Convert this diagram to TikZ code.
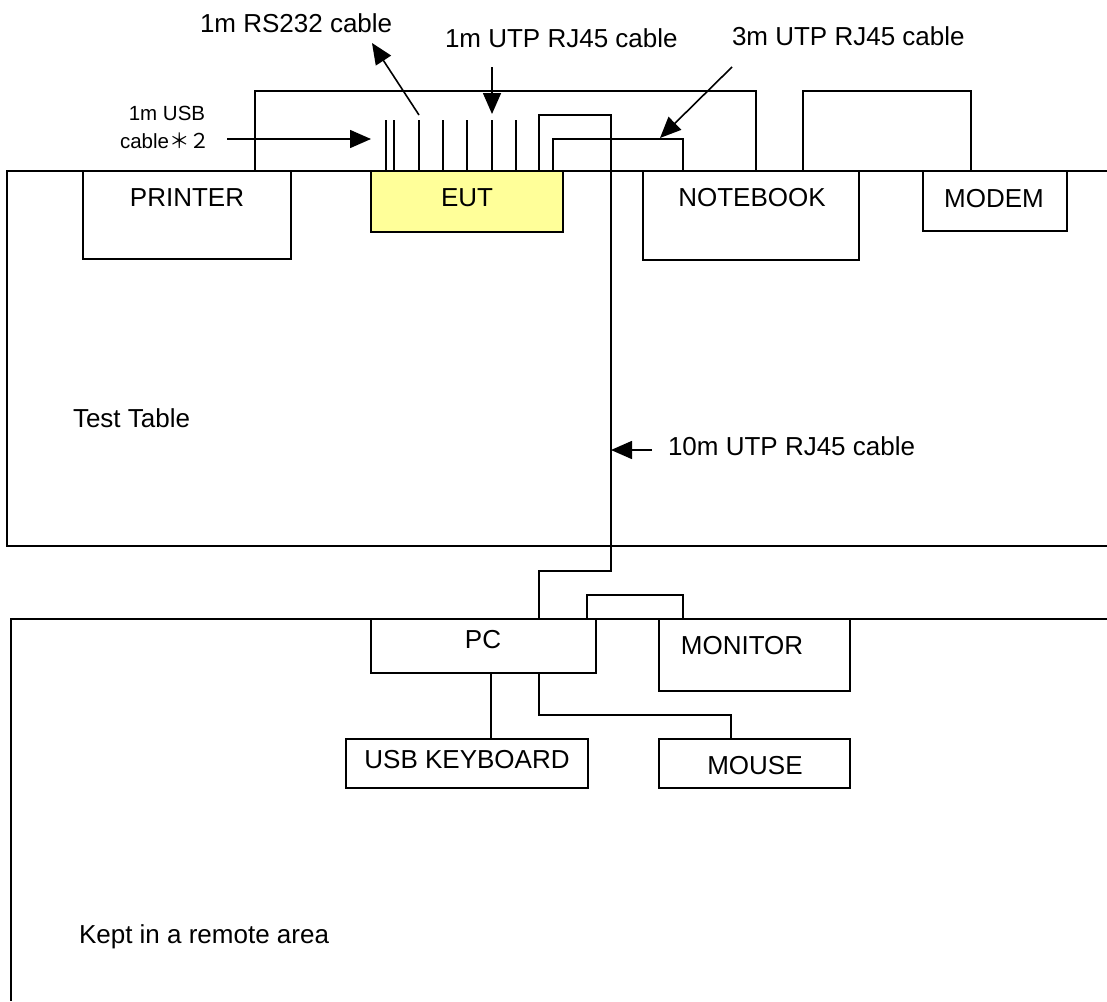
\documentclass[tikz,border=0pt]{standalone}
\usepackage{fontspec}
\setmainfont{Liberation Sans}
\newfontfamily\cjk{Noto Sans CJK SC}
\usetikzlibrary{arrows.meta}
\definecolor{eutyellow}{RGB}{255,255,153}
\tikzset{
  ln/.style={line width=1.6pt, line join=miter},
  box/.style={ln, draw=black, fill=white, rectangle, inner sep=0pt, outer sep=0pt, anchor=north west},
  lbl/.style={inner sep=0pt, outer sep=0pt, font=\fontsize{26}{30}\selectfont},
  small/.style={inner sep=0pt, outer sep=0pt, font=\fontsize{20.5}{24}\selectfont},
  arr/.style={ln, -{Triangle[length=21pt,width=18pt]}}
}
\begin{document}
\begin{tikzpicture}[x=1pt,y=-1pt]
\useasboundingbox (0,0) rectangle (1107,1001);
% test table
\draw[ln] (1107,171) -- (7,171) -- (7,546) -- (1107,546);
% remote area
\draw[ln] (1107,619) -- (11,619) -- (11,1001);
% boxes
\node[box, minimum width=208pt, minimum height=88pt] (printer) at (83,171) {};
\node[box, fill=eutyellow, minimum width=192pt, minimum height=61pt] (eut) at (371,171) {};
\node[box, minimum width=216pt, minimum height=89pt] (notebook) at (643,171) {};
\node[box, minimum width=144pt, minimum height=60pt] (modem) at (923,171) {};
\node[box, minimum width=225pt, minimum height=54pt] (pc) at (371,619) {};
\node[box, minimum width=191pt, minimum height=72pt] (monitor) at (659,619) {};
\node[box, minimum width=242pt, minimum height=49pt] (kbd) at (346,739) {};
\node[box, minimum width=191pt, minimum height=49pt] (mouse) at (659,739) {};
% box labels
\node[lbl] (printerl) at (187,198) {PRINTER};
\node[lbl] (eutl) at (467,198) {EUT};
\node[lbl] (notebookl) at (752,198) {NOTEBOOK};
\node[lbl] (modeml) at (994,199) {MODEM};
\node[lbl] (pcl) at (483,640) {PC};
\node[lbl] (monitorl) at (742,646) {MONITOR};
\node[lbl] (kbdl) at (467,760) {USB KEYBOARD};
\node[lbl] (mousel) at (755,766) {MOUSE};
% free texts
\node[lbl, anchor=base west] (tt) at (73,427) {Test Table};
\node[lbl, anchor=base west] (remote) at (79,943) {Kept in a remote area};
\node[lbl, anchor=base west] (rs232) at (200,32) {1m RS232 cable};
\node[lbl, anchor=base west] (utp1) at (445,47) {1m UTP RJ45 cable};
\node[lbl, anchor=base west] (utp3) at (732,45) {3m UTP RJ45 cable};
\node[lbl, anchor=base west] (utp10) at (668,455) {10m UTP RJ45 cable};
\node[small, anchor=base] (usb1) at (167,120) {1m USB};
\node[small, anchor=base west] (usb2) at (120,148) {cable{\cjk ＊２}};
% cables on EUT
\foreach \dx in {15,23,48,72,96,121,145}
  \draw[ln] ([xshift=\dx pt]eut.north west) -- ++(0,-51);
% EUT to PC (10m)
\draw[ln] ([xshift=168pt]eut.north west) -- ++(0,-56) -| (611,571) -| ([xshift=168pt]pc.north west);
% EUT to notebook (3m)
\draw[ln] ([xshift=182pt]eut.north west) -- ++(0,-32) -| ([xshift=40pt]notebook.north west);
% printer to notebook
\draw[ln] ([xshift=172pt]printer.north west) -- ++(0,-80) -| ([xshift=113pt]notebook.north west);
% notebook to modem
\draw[ln] ([xshift=160pt]notebook.north west) -- ++(0,-80) -| ([xshift=48pt]modem.north west);
% PC to monitor
\draw[ln] ([xshift=216pt]pc.north west) -- ++(0,-24) -| ([xshift=24pt]monitor.north west);
% PC to keyboard
\draw[ln] ([xshift=120pt]pc.south west) -- ([xshift=145pt]kbd.north west);
% PC to mouse
\draw[ln] ([xshift=168pt]pc.south west) -- ++(0,42) -| ([xshift=72pt]mouse.north west);
% arrows
\coordinate (a1s) at (419,115); \coordinate (a1e) at (372,43);
\draw[arr] (a1s) -- (a1e);
\coordinate (a2s) at (492,67); \coordinate (a2e) at (492,114);
\draw[arr] (a2s) -- (a2e);
\coordinate (a3s) at (732,67); \coordinate (a3e) at (660,138);
\draw[arr] (a3s) -- (a3e);
\coordinate (a4s) at (227,139); \coordinate (a4e) at (371,139);
\draw[arr] (a4s) -- (a4e);
\coordinate (a5s) at (652,450); \coordinate (a5e) at (611,450);
\draw[arr] (a5s) -- (a5e);
\end{tikzpicture}
\end{document}
